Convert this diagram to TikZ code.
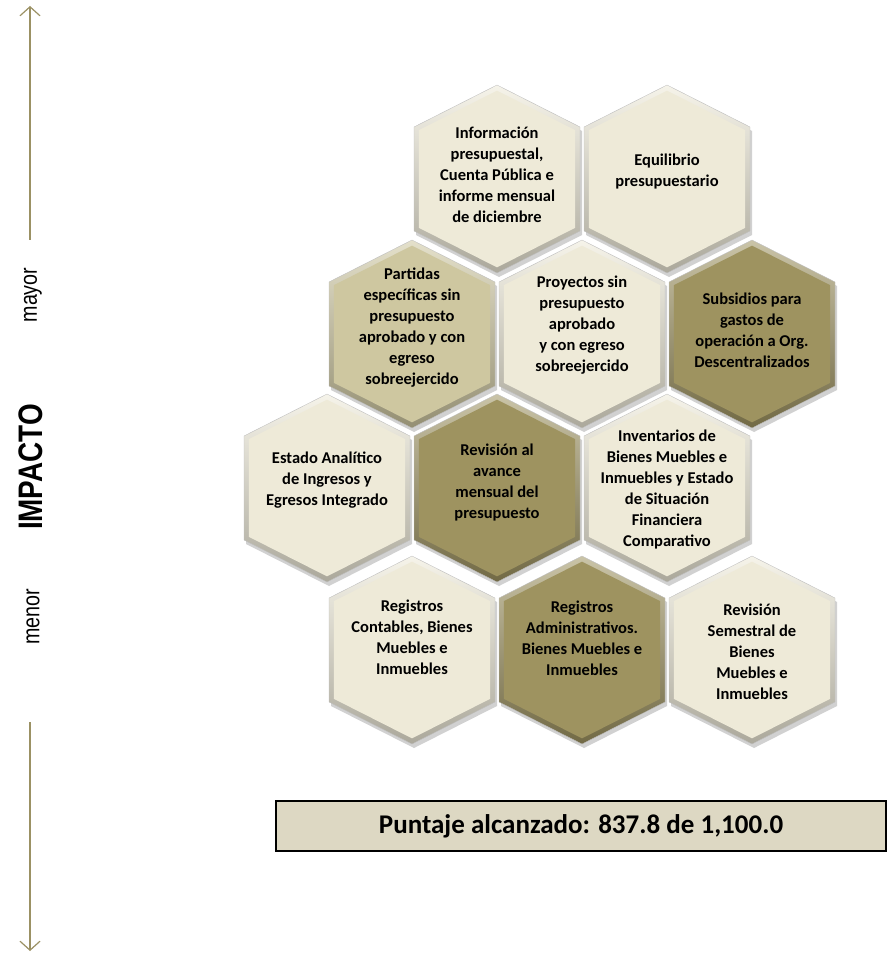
\documentclass[tikz,border=0pt]{standalone}
\usepackage{fontspec}
\setmainfont{Carlito}
\newfontfamily\narrowfont[FakeStretch=0.82]{Liberation Sans}
\usetikzlibrary{arrows.meta}

\definecolor{hexlight}{RGB}{238,234,216}
\definecolor{hexmid}{RGB}{206,199,160}
\definecolor{hexdark}{RGB}{158,147,96}
\definecolor{olive}{RGB}{155,145,100}
\definecolor{scorefill}{RGB}{221,216,195}

\tikzset{
  hextext/.style={align=center, text=black, inner sep=0pt,
    font=\bfseries\fontsize{16.5}{21}\selectfont},
  sideline/.style={olive, line width=1.2pt, -{Straight Barb[length=9pt,width=20pt]}},
  sidelabel/.style={rotate=90, font=\narrowfont\fontsize{24}{24}\selectfont},
  scorebox/.style={draw=black, line width=1.3pt, fill=scorefill, inner sep=0pt,
    minimum width=610pt, minimum height=50pt,
    font=\bfseries\fontsize{27}{30}\selectfont}
}

\def\hexpath{(0,-94) -- (83,-52) -- (83,52) -- (0,94) -- (-83,52) -- (-83,-52) -- cycle}

% name, x, y, colour, text offset, text
\newcommand{\hexcell}[6]{%
  \begin{scope}[shift={(#2,#3)}]
    \fill[black, opacity=.18, xshift=2pt, yshift=-4pt] \hexpath;
    \shade[draw=black!25, top color=#4!55!white, bottom color=#4!72!black] \hexpath;
    \fill[#4, scale=.94] \hexpath;
    \node[hextext] (#1) at (0,#5) {#6};
  \end{scope}}

\begin{document}
\begin{tikzpicture}[x=1pt, y=-1pt]
  \useasboundingbox (0,0) rectangle (887,957);

  % impact scale
  \coordinate (uptip) at (30,6);
  \coordinate (upfoot) at (30,240);
  \coordinate (downtop) at (30,722);
  \coordinate (downtip) at (30,951);
  \draw[sideline] (upfoot) -- (uptip);
  \draw[sideline] (downtop) -- (downtip);
  \node[sidelabel] (mayor) at (33,295) {mayor};
  \node[sidelabel, font=\narrowfont\bfseries\fontsize{34}{34}\selectfont] (impacto) at (31,467) {IMPACTO};
  \node[sidelabel] (menor) at (33,617) {menor};

  % hexagons
  \hexcell{info}{497}{179}{hexlight}{-4}{Información\\presupuestal,\\Cuenta Pública e\\informe mensual\\de diciembre}
  \hexcell{equilibrio}{667}{179}{hexlight}{-7}{Equilibrio\\presupuestario}

  \hexcell{partidas}{412}{334}{hexmid}{-6}{Partidas\\específicas sin\\presupuesto\\aprobado y con\\egreso\\sobreejercido}
  \hexcell{proyectos}{582}{334}{hexlight}{-9}{Proyectos sin\\presupuesto\\aprobado\\y con egreso\\sobreejercido}
  \hexcell{subsidios}{752}{334}{hexdark}{-4}{Subsidios para\\gastos de\\operación a Org.\\Descentralizados}

  \hexcell{estado}{327}{488}{hexlight}{-8}{Estado Analítico\\de Ingresos y\\Egresos Integrado}
  \hexcell{revision}{497}{488}{hexdark}{-5}{Revisión al\\avance\\mensual del\\presupuesto}
  \hexcell{inventarios}{667}{488}{hexlight}{2}{Inventarios de\\Bienes Muebles e\\Inmuebles y Estado\\de Situación\\Financiera\\Comparativo}

  \hexcell{contables}{412}{650}{hexlight}{-13}{Registros\\Contables, Bienes\\Muebles e\\Inmuebles}
  \hexcell{administrativos}{582}{650}{hexdark}{-12}{Registros\\Administrativos.\\Bienes Muebles e\\Inmuebles}
  \hexcell{semestral}{752}{650}{hexlight}{2}{Revisión\\Semestral de\\Bienes\\Muebles e\\Inmuebles}

  \node[scorebox] (score) at (581,826) {Puntaje alcanzado: 837.8 de 1,100.0};
\end{tikzpicture}
\end{document}
